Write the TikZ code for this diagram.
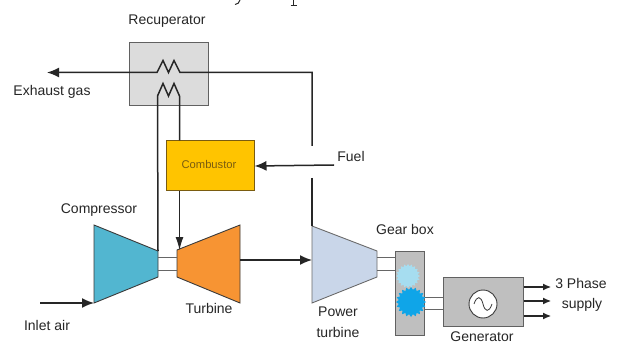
\documentclass[tikz,border=0pt]{standalone}
\usepackage{fontspec}
\setmainfont{Liberation Sans}
\usetikzlibrary{arrows.meta,shapes.geometric,shapes.misc}
\definecolor{compc}{HTML}{52B6D0}
\definecolor{turbc}{HTML}{F79433}
\definecolor{powc}{HTML}{C9D6E9}
\definecolor{combc}{HTML}{FFC400}
\definecolor{recc}{HTML}{DCDCDC}
\definecolor{genc}{HTML}{BFBFBF}
\definecolor{edgec}{HTML}{3A3A3A}
\definecolor{gearl}{HTML}{A6DDF0}
\definecolor{geard}{HTML}{0FA5E8}
\definecolor{combt}{HTML}{7A5C10}
\tikzset{
  x=1pt,y=-1pt,
  lbl/.style={font=\fontsize{14}{16}\selectfont,text=black!85,inner sep=0pt,align=center},
  flow/.style={line width=1.5pt,draw=black!85},
  arr/.style={flow,-{Latex[length=12pt,width=10pt]}},
  thin arr/.style={line width=1.1pt,draw=black!85,-{Latex[length=8pt,width=7pt]}},
  long arr/.style={line width=1.1pt,draw=black!85,-{Latex[length=13pt,width=8pt]}},
  shaft/.style={line width=1pt,draw=black!60},
  boxs/.style={draw=edgec!80,line width=1pt,inner sep=0pt},
  mach/.style={draw=edgec,line width=.9pt,line join=miter},
  gearstar/.style={star,star points=20,star point ratio=1.22,draw=none,inner sep=0pt},
}
\begin{document}
\begin{tikzpicture}
\useasboundingbox (0,0) rectangle (617,347);
\fill[white] (0,0) rectangle (617,347);
% clipped remains of the text above the figure
\draw[line width=1pt,draw=black!85] (240,0) .. controls (239,3) and (238,4) .. (235,4.5);
\draw[line width=1pt,draw=black!85] (293.5,0) -- (293.5,5.5) (290.5,5.8) -- (296.5,5.8);
% boxes
\node[boxs,fill=recc,minimum width=79pt,minimum height=63pt] (rec) at (168.5,74.5) {};
\node[boxs,draw=combt,fill=combc,minimum width=88pt,minimum height=50pt] (comb) at (210,166) {};
\node[boxs,fill=genc,minimum width=80pt,minimum height=49pt] (gen) at (483,301.5) {};
\node[boxs,fill=genc,minimum width=29pt,minimum height=84pt] (gear) at (409.5,293) {};
% machines
\draw[mach,fill=compc] (94,225) -- (158,251) -- (158,277) -- (94,303) -- cycle;
\draw[mach,fill=turbc] (177,250) -- (240,225) -- (240,303) -- (177,277) -- cycle;
\draw[mach,draw=edgec!75,fill=powc] (312,226) -- (377,251) -- (377,277) -- (312,303) -- cycle;
\coordinate (compTop) at (158,251);
\coordinate (turbTop) at (179.5,250);
\coordinate (turbOut) at (240,260);
\coordinate (powIn) at (312,260);
\coordinate (powTop) at (312,226);
\coordinate (exh) at (47,72.5);
\coordinate (fuelS) at (334,165);
\coordinate (inS) at (40,303);
\coordinate (compIn) at (94,303);
\coordinate (a1) at (312,146);
\coordinate (a2) at (312,178);
\coordinate (c1) at (312,72.5);
% shafts
\draw[shaft] (158,257) -- (177,257) (158,270) -- (177,270);
\draw[shaft] (377,257) -- (395,257) (377,270) -- (395,270);
\draw[shaft] (424,297) -- (443,297) (424,309) -- (443,309);
% recuperator flows
\draw[arr,line join=miter] (a1) -- (c1) -- (180,72.5) -- (174,60.5) -- (168.5,72.5) -- (163,60.5) -- (157,72.5) -- (exh);
\draw[flow,line join=miter] (compTop) -- (157.5,96) -- (163,83.5) -- (168.5,96) -- (174,83.5) -- (179.5,96) -- (comb.north -| 179.5,0);
\draw[long arr] (comb.south -| 179.5,0) -- (turbTop);
\draw[arr] (fuelS) -- (comb.east);
\draw[line width=1.2pt,draw=black!85] (a2) -- (powTop);
\draw[arr] (turbOut) -- (powIn);
\draw[arr] (inS) -- (compIn);
% gears
\node[gearstar,fill=gearl,minimum size=24pt] (g1) at (408,276) {};
\node[gearstar,fill=geard,minimum size=30pt] (g2) at (411,302) {};
% generator symbol
\node[circle,draw=edgec,line width=.9pt,fill=white,minimum size=28pt,inner sep=0pt] (sym) at (483,304) {};
\draw[line width=.8pt,draw=edgec] (474,304) .. controls (477,295) and (481,296) .. (483,304) .. controls (485,312) and (489,313) .. (492,304);
% outputs
\coordinate (o1) at (551,287); \coordinate (o2) at (551,301); \coordinate (o3) at (551,316);
\draw[thin arr] (gen.east |- o1) -- (o1);
\draw[thin arr] (gen.east |- o2) -- (o2);
\draw[thin arr] (gen.east |- o3) -- (o3);
% labels
\node[lbl] (t1) at (167,21) {Recuperator};
\node[lbl] (t2) at (52,91.5) {Exhaust gas};
\node[lbl,font=\fontsize{11.2}{13}\selectfont,text=combt] (t3) at (209,164) {Combustor};
\node[lbl] (t4) at (351,156) {Fuel};
\node[lbl] (t5) at (99,210) {Compressor};
\node[lbl] (t6) at (47,325) {Inlet air};
\node[lbl] (t7) at (209,308) {Turbine};
\node[lbl] (t8) at (338,312) {Power};
\node[lbl] (t9) at (338,332) {turbine};
\node[lbl] (t10) at (405,229) {Gear box};
\node[lbl] (t11) at (581,283) {3 Phase};
\node[lbl] (t12) at (582,305) {supply};
\node[lbl] (t13) at (482,337) {Generator};
\end{tikzpicture}
\end{document}
